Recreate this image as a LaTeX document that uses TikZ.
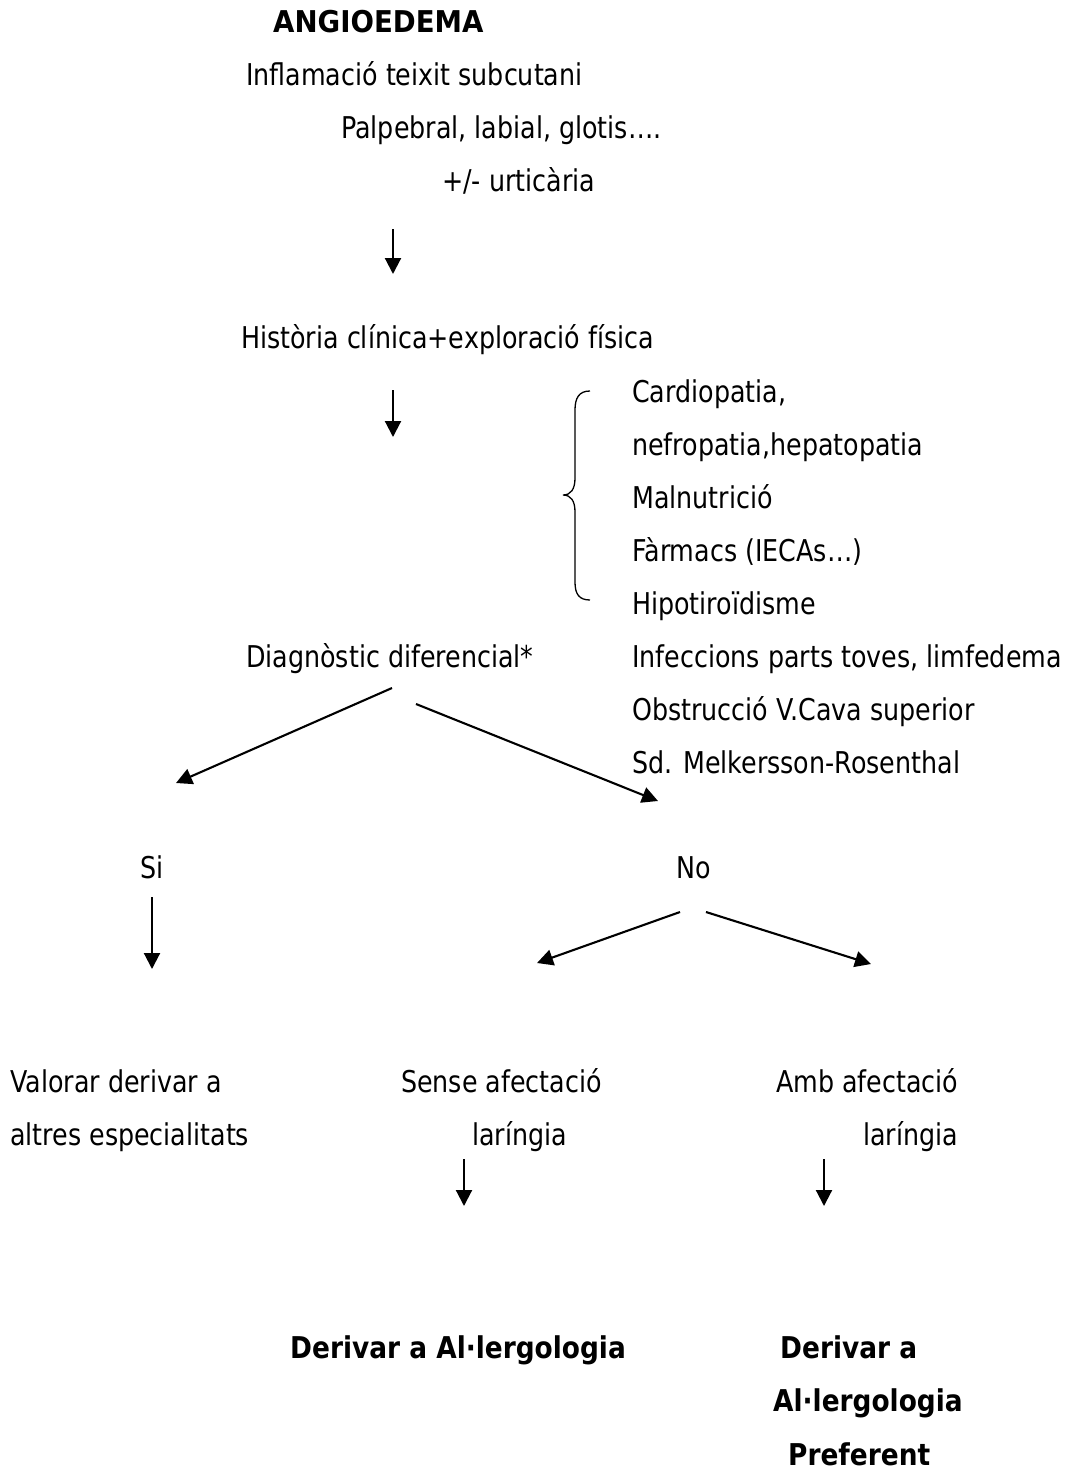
\documentclass[tikz,border=0pt]{standalone}
\usepackage{fontspec}
\setmainfont{DejaVu Sans}
\newfontfamily\regfont[FakeStretch=0.845]{DejaVu Sans}
\newfontfamily\boldfont[FakeStretch=0.88]{DejaVu Sans}
\newfontfamily\titlefont[FakeStretch=0.92]{DejaVu Sans}
\usetikzlibrary{arrows.meta}
\begin{document}
\begin{tikzpicture}[x=1pt,y=-1pt,
  txt/.style={anchor=base west,inner sep=0pt,font=\regfont\fontsize{30}{36}\selectfont},
  btxt/.style={anchor=base west,inner sep=0pt,font=\boldfont\bfseries\fontsize{30}{36}\selectfont},
  arr/.style={line width=2.1pt,-{Triangle[length=16pt,width=16pt]}}]
\useasboundingbox[fill=white] (0,0) rectangle (1078,1470);

% header block
\node[btxt,font=\titlefont\bfseries\fontsize{30}{36}\selectfont] (title) at (273,32) {ANGIOEDEMA};
\node[txt] (l1) at (246,85) {Inflamació teixit subcutani};
\node[txt] (l2) at (341,138) {Palpebral, labial, glotis….};
\node[txt] (l3) at (442,191) {+/- urticària};

\coordinate (a1s) at (393,229);
\coordinate (a1e) at (393,274);
\draw[arr] (a1s) -- (a1e);

\node[txt] (hist) at (241,348) {Història clínica+exploració física};

\coordinate (a2s) at (393,390);
\coordinate (a2e) at (393,437);
\draw[arr] (a2s) -- (a2e);

% differential list with brace
\node[txt] (c1) at (632,402) {Cardiopatia,};
\node[txt] (c2) at (632,455) {nefropatia,hepatopatia};
\node[txt] (c3) at (632,508) {Malnutrició};
\node[txt] (c4) at (632,561) {Fàrmacs (IECAs…)};
\node[txt] (c5) at (632,614) {Hipotiroïdisme};
\node[txt] (c6) at (632,667) {Infeccions parts toves, limfedema};
\node[txt] (c7) at (632,720) {Obstrucció V.Cava superior};
\node[txt] (c8) at (632,773) {Sd. Melkersson-Rosenthal};

\coordinate (bt) at (590,391);
\coordinate (bb) at (590,600);
\draw[line width=1.3pt] (bt) .. controls (579,391) and (575,398) .. (575,410)
  -- (575,478) .. controls (575,489) and (571,495) .. (563,495)
  .. controls (571,495) and (575,501) .. (575,512)
  -- (575,582) .. controls (575,594) and (579,600) .. (bb);

\node[txt] (dd) at (246,667) {Diagnòstic diferencial*};

\coordinate (dl) at (392,688);
\coordinate (si0) at (176,783);
\coordinate (dr) at (416,704);
\coordinate (no0) at (658,801);
\draw[arr] (dl) -- (si0);
\draw[arr] (dr) -- (no0);

\node[txt] (si) at (140,878) {Si};
\node[txt] (no) at (676,878) {No};

\coordinate (s1) at (152,897);
\coordinate (s2) at (152,969);
\draw[arr] (s1) -- (s2);

\coordinate (n1) at (680,912);
\coordinate (n2) at (537,963);
\coordinate (n3) at (706,912);
\coordinate (n4) at (871,964);
\draw[arr] (n1) -- (n2);
\draw[arr] (n3) -- (n4);

\node[txt] (v1) at (10,1092) {Valorar derivar a};
\node[txt] (v2) at (10,1145) {altres especialitats};
\node[txt] (se1) at (401,1092) {Sense afectació};
\node[txt] (se2) at (472,1145) {laríngia};
\node[txt] (am1) at (776,1092) {Amb afectació};
\node[txt] (am2) at (863,1145) {laríngia};

\coordinate (x1) at (464,1159);
\coordinate (x2) at (464,1206);
\coordinate (y1) at (824,1159);
\coordinate (y2) at (824,1206);
\draw[arr] (x1) -- (x2);
\draw[arr] (y1) -- (y2);

\node[btxt] (d1) at (290,1358) {Derivar a Al·lergologia};
\node[btxt] (d2) at (780,1358) {Derivar a};
\node[btxt] (d3) at (773,1411) {Al·lergologia};
\node[btxt] (d4) at (788,1465) {Preferent};
\end{tikzpicture}
\end{document}
